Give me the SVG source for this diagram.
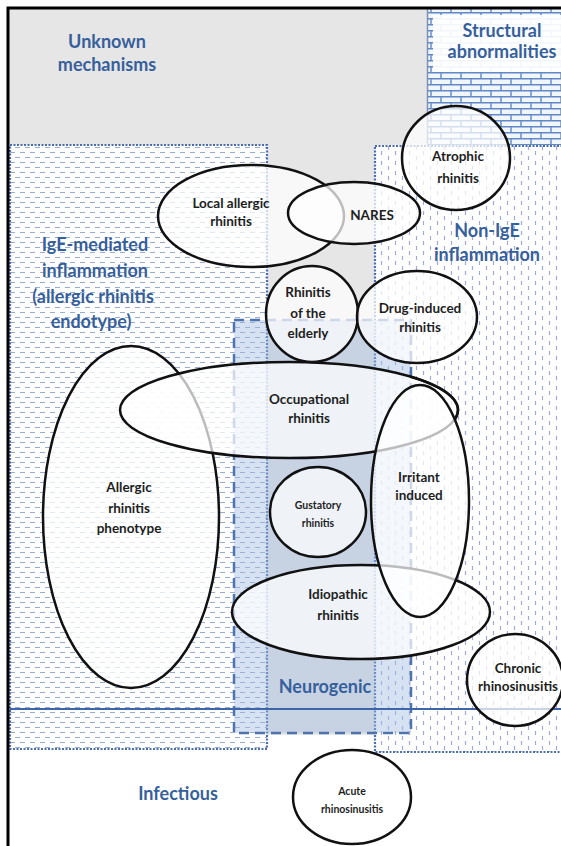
<svg xmlns="http://www.w3.org/2000/svg" width="561" height="846" viewBox="0 0 561 846">
<defs>
<pattern id="hdash" width="10" height="10" patternUnits="userSpaceOnUse">
<path d="M0 2.5h5M5 7.5h5" stroke="#98acd2" stroke-width="1.1"/>
</pattern>
<pattern id="vdash" width="14" height="10" patternUnits="userSpaceOnUse">
<path d="M3.5 1v4M10.5 6v4M10.5 -4v4" stroke="#a1a9d9" stroke-width="1.2"/>
</pattern>
<pattern id="brick" width="20" height="12" patternUnits="userSpaceOnUse">
<rect width="20" height="12" fill="#f1f5fc"/>
<path d="M0 0.75h20M0 6.75h20M1 0v6.75M11 6.75v6" stroke="#6189c6" stroke-width="1.4"/>
</pattern>
<style>
.ell{fill:#ffffff;fill-opacity:0.72;stroke:#111;stroke-width:2.5}
.arc{fill:none;stroke:#111;stroke-width:2.5}
.cat{font-family:Lato,"Liberation Sans",sans-serif;font-weight:bold;font-size:18px;fill:#365f9c;text-anchor:middle}
.lbl{font-family:Lato,"Liberation Sans",sans-serif;font-weight:bold;font-size:13.5px;fill:#1e1e1e;text-anchor:middle}
.sm{font-size:10.5px}
</style>
</defs>
<rect width="561" height="846" fill="#ffffff"/>
<g id="regions">
<rect id="unknown-bg" x="9" y="9" width="418" height="136" fill="#e6e6e6"/>
<rect x="267" y="140" width="108" height="595" fill="#e6e6e6"/>
<g id="structural">
<rect x="427" y="9" width="134" height="136" fill="url(#brick)"/>
<rect x="433" y="15" width="128" height="57" fill="#ffffff" fill-opacity="0.92"/>
<line x1="427.5" y1="9" x2="427.5" y2="145" stroke="#7d93b6" stroke-width="1.5"/>
</g>
<g id="ige">
<rect x="10" y="145" width="257" height="604" fill="#ffffff"/>
<rect x="10" y="145" width="257" height="604" fill="url(#hdash)" stroke="#4a6eb0" stroke-width="2.2" stroke-dasharray="2 1.5"/>
</g>
<g id="nonige">
<rect x="375" y="146" width="190" height="606" fill="#ffffff"/>
<rect x="375" y="146" width="190" height="606" fill="url(#vdash)" stroke="#4a6eb0" stroke-width="2.2" stroke-dasharray="2 1.5"/>
</g>
<g id="neurogenic">
<rect x="234" y="320" width="177" height="413" fill="#9dbbe0" fill-opacity="0.42" stroke="#4f74ad" stroke-width="2.5" stroke-dasharray="10 6"/>
</g>
<line id="infectious-line" x1="10" y1="709" x2="561" y2="709" stroke="#3d66a8" stroke-width="2"/>
<path id="frame" d="M8 846V8H561" fill="none" stroke="#000" stroke-width="3"/>
</g>
<g id="connectors"></g>
<g id="n-allergic"><ellipse class="ell" cx="131" cy="517" rx="88" ry="171"/><text class="lbl" x="129" y="492">Allergic</text><text class="lbl" x="129" y="513">rhinitis</text><text class="lbl" x="129" y="533">phenotype</text></g>
<g id="n-occupational"><ellipse class="ell" cx="289" cy="410" rx="169" ry="48"/><text class="lbl" x="309" y="404">Occupational</text><text class="lbl" x="309" y="423">rhinitis</text></g>
<g id="n-idiopathic"><ellipse class="ell" cx="361" cy="612" rx="129" ry="47"/><text class="lbl" x="338" y="599">Idiopathic</text><text class="lbl" x="338" y="620">rhinitis</text></g>
<g id="n-irritant"><ellipse class="ell" cx="420" cy="501" rx="49" ry="116"/><text class="lbl" x="419" y="482">Irritant</text><text class="lbl" x="419" y="500">induced</text></g>
<path class="arc" d="M410 376.5A169 48 0 0 1 455 419"/>
<g id="n-gustatory"><ellipse class="ell" cx="318" cy="512" rx="48" ry="45"/><text class="lbl sm" x="318" y="509">Gustatory</text><text class="lbl sm" x="318" y="527">rhinitis</text></g>
<g id="n-local"><ellipse class="ell" cx="251" cy="216" rx="93" ry="51"/><text class="lbl" x="231" y="208">Local allergic</text><text class="lbl" x="231" y="226">rhinitis</text></g>
<g id="n-nares"><ellipse class="ell" cx="354" cy="213" rx="66" ry="31"/><text class="lbl" x="372" y="220">NARES</text></g>
<g id="n-elderly"><ellipse class="ell" cx="312" cy="314" rx="46" ry="48"/><text class="lbl" x="308" y="297">Rhinitis</text><text class="lbl" x="308" y="318">of the</text><text class="lbl" x="308" y="338">elderly</text></g>
<g id="n-drug"><ellipse class="ell" cx="417" cy="317" rx="60" ry="46"/><text class="lbl" x="420" y="313">Drug-induced</text><text class="lbl" x="420" y="332">rhinitis</text></g>
<g id="n-atrophic"><ellipse class="ell" cx="456" cy="158" rx="54" ry="52"/><text class="lbl" x="458" y="161">Atrophic</text><text class="lbl" x="458" y="183">rhinitis</text></g>
<g id="n-chronic"><ellipse class="ell" cx="515" cy="680" rx="48" ry="46"/><text class="lbl" x="518" y="673">Chronic</text><text class="lbl" x="518" y="691">rhinosinusitis</text></g>
<g id="n-acute"><ellipse class="ell" cx="352" cy="797" rx="59" ry="47"/><text class="lbl sm" x="352" y="795">Acute</text><text class="lbl sm" x="352" y="813">rhinosinusitis</text></g>
<g id="labels">
<text class="cat" x="107" y="48">Unknown</text><text class="cat" x="107" y="71">mechanisms</text>
<text class="cat" x="502" y="37">Structural</text><text class="cat" x="502" y="58">abnormalities</text>
<text class="cat" x="95" y="251">IgE-mediated</text><text class="cat" x="95" y="277">inflammation</text><text class="cat" x="93" y="303">(allergic rhinitis</text><text class="cat" x="91" y="328">endotype)</text>
<text class="cat" x="487" y="237">Non-IgE</text><text class="cat" x="487" y="261">inflammation</text>
<text class="cat" x="325" y="693">Neurogenic</text>
<text class="cat" x="178" y="800">Infectious</text>
</g>
</svg>
